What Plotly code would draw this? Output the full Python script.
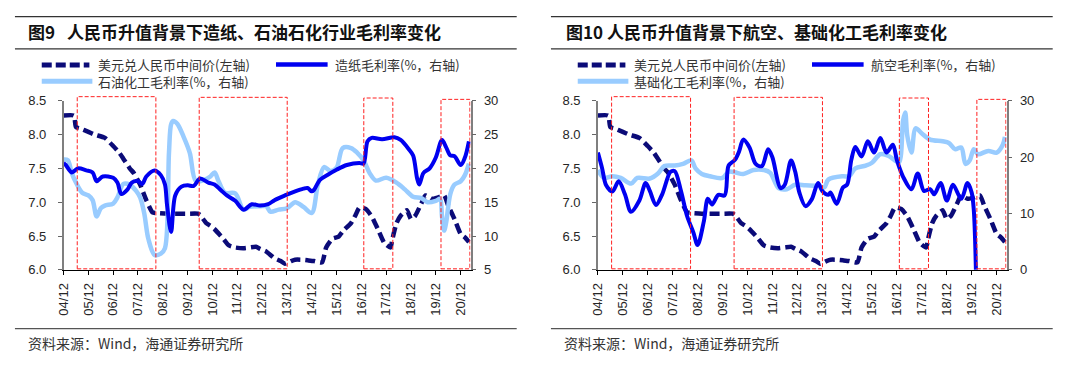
import plotly.graph_objects as go

W, H = 1080, 368

# ---------------- data ----------------
FX_DATES = ["2004-12", "2005-05", "2005-06", "2005-08", "2005-12", "2006-03", "2006-08", "2006-12",
            "2007-03", "2007-05", "2007-08", "2007-10", "2008-01", "2008-04", "2008-07", "2008-09",
            "2009-02", "2009-07", "2009-12", "2010-05", "2010-06", "2010-09", "2010-11", "2011-01",
            "2011-05", "2011-08", "2011-11", "2012-03", "2012-06", "2012-09", "2012-11", "2013-02",
            "2013-06", "2013-09", "2013-11", "2014-02", "2014-04", "2014-07", "2014-10", "2015-01",
            "2015-05", "2015-07", "2015-10", "2016-01", "2016-03", "2016-07", "2016-09", "2016-11",
            "2017-02", "2017-05", "2017-08", "2017-11", "2018-02", "2018-03", "2018-05", "2018-07",
            "2018-10", "2018-12", "2019-02", "2019-05", "2019-07", "2019-10", "2020-01", "2020-04",
            "2020-06", "2020-09", "2020-12", "2021-02", "2021-04"]
FX_VALUES = [8.28, 8.28, 8.11, 8.09, 8.04, 8.00, 7.95, 7.83,
             7.73, 7.64, 7.50, 7.43, 7.26, 7.03, 6.85, 6.84,
             6.83, 6.83, 6.83, 6.83, 6.81, 6.69, 6.65, 6.60,
             6.47, 6.36, 6.33, 6.32, 6.33, 6.34, 6.31, 6.27,
             6.17, 6.13, 6.09, 6.13, 6.15, 6.15, 6.14, 6.13,
             6.11, 6.33, 6.46, 6.49, 6.57, 6.69, 6.80, 6.92,
             6.90, 6.79, 6.60, 6.40, 6.33, 6.45, 6.69, 6.80,
             6.88, 6.75, 6.80, 6.98, 7.10, 7.05, 7.07, 7.10,
             6.95, 6.75, 6.53, 6.48, 6.41]

PAPER_DATES = ["2004-12", "2005-01", "2005-04", "2005-07", "2005-11", "2006-02", "2006-04", "2006-07",
               "2006-12", "2007-02", "2007-04", "2007-07", "2007-09", "2007-12", "2008-02", "2008-04",
               "2008-08", "2008-11", "2009-01", "2009-02", "2009-04", "2009-06", "2009-09", "2009-12",
               "2010-03", "2010-06", "2010-10", "2011-01", "2011-04", "2011-07", "2011-11", "2012-03",
               "2012-07", "2012-11", "2013-03", "2013-06", "2013-11", "2014-04", "2014-08", "2014-10",
               "2014-12", "2015-01", "2015-04", "2015-08", "2015-12", "2016-05", "2016-11", "2017-01",
               "2017-03", "2017-05", "2017-10", "2018-04", "2018-07", "2018-11", "2019-01", "2019-03",
               "2019-04", "2019-06", "2019-09", "2019-12", "2020-03", "2020-05", "2020-07", "2020-09",
               "2020-12", "2021-02", "2021-04"]
PAPER_MARGIN = [20.8, 20.5, 19.4, 20.0, 19.7, 19.4, 18.1, 18.8,
                18.6, 17.9, 16.2, 16.9, 17.9, 18.1, 17.7, 18.8,
                19.7, 19.0, 17.6, 14.5, 10.6, 16.0, 17.3, 17.5,
                17.4, 18.5, 17.9, 17.6, 16.8, 16.0, 15.2, 13.9,
                14.7, 14.5, 14.7, 15.3, 16.0, 16.6, 17.0, 17.1,
                16.6, 16.8, 18.3, 19.1, 19.8, 20.5, 20.8, 20.7,
                24.0, 24.5, 24.3, 24.6, 24.2, 22.8, 21.9, 18.5,
                17.6, 19.3, 20.0, 21.6, 24.2, 23.1, 21.9, 21.8,
                20.5, 21.6, 24.0]

PETRO_DATES = ["2004-12", "2005-02", "2005-04", "2005-06", "2005-09", "2005-12", "2006-02", "2006-04",
               "2006-06", "2006-08", "2006-12", "2007-02", "2007-05", "2007-08", "2007-11", "2008-01",
               "2008-03", "2008-05", "2008-08", "2008-11", "2009-01", "2009-03", "2009-04", "2009-05",
               "2009-07", "2009-10", "2010-01", "2010-04", "2010-08", "2010-11", "2011-01", "2011-03",
               "2011-06", "2011-11", "2012-03", "2012-06", "2012-11", "2013-02", "2013-04", "2013-08",
               "2013-12", "2014-04", "2014-08", "2014-12", "2015-03", "2015-06", "2015-09", "2015-12",
               "2016-03", "2016-07", "2016-10", "2017-01", "2017-04", "2017-07", "2017-12", "2018-05",
               "2018-09", "2019-01", "2019-05", "2019-08", "2019-12", "2020-02", "2020-03", "2020-04",
               "2020-05", "2020-07", "2020-09", "2020-12", "2021-02", "2021-04"]
PETRO_MARGIN = [21.3, 21.2, 19.3, 17.9, 16.4, 16.0, 15.3, 12.9,
                14.1, 14.5, 14.8, 15.7, 17.7, 17.6, 16.7, 15.7,
                13.4, 9.6, 7.2, 7.4, 8.2, 22.3, 26.5, 27.0,
                26.6, 24.7, 22.3, 18.1, 18.3, 18.8, 19.4, 18.1,
                16.4, 16.3, 13.9, 14.3, 14.4, 14.4, 13.6, 13.9,
                14.1, 15.0, 14.3, 13.4, 17.6, 20.2, 19.6, 20.1,
                23.0, 23.0, 22.3, 21.2, 19.3, 18.2, 18.6, 17.9,
                16.9, 15.8, 15.6, 15.0, 15.2, 15.5, 12.9, 10.8,
                12.0, 16.2, 17.6, 18.1, 19.0, 20.7]

AVIATION_DATES = ["2004-12", "2005-02", "2005-04", "2005-07", "2005-10", "2006-01", "2006-04", "2006-08",
                  "2006-11", "2007-01", "2007-04", "2007-07", "2007-11", "2008-01", "2008-04", "2008-07",
                  "2008-10", "2008-12", "2009-03", "2009-05", "2009-07", "2009-10", "2010-01", "2010-03",
                  "2010-06", "2010-08", "2010-10", "2011-01", "2011-04", "2011-07", "2011-10", "2011-12",
                  "2012-04", "2012-06", "2012-09", "2012-11", "2013-01", "2013-04", "2013-07", "2013-10",
                  "2013-12", "2014-03", "2014-04", "2014-07", "2014-10", "2014-12", "2015-02", "2015-04",
                  "2015-07", "2015-10", "2016-01", "2016-04", "2016-07", "2016-10", "2016-12", "2017-03",
                  "2017-07", "2017-10", "2018-01", "2018-04", "2018-06", "2018-09", "2018-12", "2019-03",
                  "2019-07", "2019-10", "2019-12", "2020-01", "2020-02"]
AVIATION_MARGIN = [20.8, 18.0, 15.0, 13.9, 15.7, 13.4, 10.3, 12.3,
                   15.4, 14.0, 11.5, 13.4, 17.4, 17.5, 14.0, 9.5,
                   6.6, 4.4, 8.5, 12.6, 11.6, 13.3, 13.2, 18.5,
                   19.5, 21.0, 23.1, 21.7, 18.8, 18.4, 21.4, 20.0,
                   14.5, 15.1, 19.4, 17.4, 13.7, 11.3, 12.5, 15.4,
                   14.0, 13.3, 13.7, 11.7, 14.6, 15.1, 19.5, 21.8,
                   20.1, 22.8, 20.8, 23.4, 20.8, 22.2, 19.4, 16.5,
                   14.3, 17.1, 14.0, 14.3, 13.4, 15.4, 12.3, 15.1,
                   12.6, 15.4, 13.7, 10.6, 0.0]

CHEM_DATES = ["2004-12", "2005-03", "2005-07", "2005-11", "2006-04", "2006-07", "2007-01", "2007-05",
              "2007-08", "2008-01", "2008-05", "2008-09", "2008-11", "2009-02", "2009-06", "2009-12",
              "2010-03", "2010-06", "2010-10", "2011-03", "2011-08", "2011-11", "2012-03", "2012-07",
              "2012-11", "2013-04", "2013-10", "2014-01", "2014-03", "2014-10", "2015-01", "2015-04",
              "2015-09", "2015-12", "2016-04", "2016-08", "2016-11", "2017-01", "2017-03", "2017-04",
              "2017-05", "2017-07", "2017-09", "2017-12", "2018-04", "2018-10", "2019-01", "2019-04",
              "2019-07", "2019-09", "2019-11", "2020-01", "2020-03", "2020-08", "2020-12", "2021-03",
              "2021-04"]
CHEM_MARGIN = [17.7, 16.3, 16.6, 16.3, 15.3, 16.3, 16.2, 17.1,
               18.4, 18.5, 18.8, 19.4, 18.0, 17.0, 16.6, 16.3,
               17.4, 17.3, 17.0, 17.7, 17.7, 17.2, 14.5, 14.3,
               15.1, 15.0, 14.9, 14.6, 16.0, 16.6, 16.6, 18.0,
               18.5, 19.0, 20.5, 20.2, 19.4, 19.1, 26.5, 27.9,
               23.8, 20.8, 25.1, 24.2, 23.1, 22.8, 22.5, 21.4,
               21.7, 18.8, 19.4, 21.4, 20.5, 21.1, 20.8, 22.2,
               23.6]

TICK_DATES = ["2004-12-01", "2005-12-01", "2006-12-01", "2007-12-01", "2008-12-01", "2009-12-01",
              "2010-12-01", "2011-12-01", "2012-12-01", "2013-12-01", "2014-12-01", "2015-12-01",
              "2016-12-01", "2017-12-01", "2018-12-01", "2019-12-01", "2020-12-01"]
TICK_LABELS = ["04/12", "05/12", "06/12", "07/12", "08/12", "09/12", "10/12", "11/12", "12/12",
               "13/12", "14/12", "15/12", "16/12", "17/12", "18/12", "19/12", "20/12"]

# RMB appreciation periods (red dashed boxes)
PERIOD_START = ["2005-06-20", "2010-05-20", "2017-01-05", "2020-02-15"]
PERIOD_END = ["2008-08-20", "2013-12-05", "2018-03-08", "2021-04-15"]
PERIOD_TOP = [8.56, 8.55, 8.54, 8.52]

TITLES = ["图9\u2002\u2009人民币升值背景下造纸、石油石化行业毛利率变化",
          "图10 人民币升值背景下航空、基础化工毛利率变化"]
NAMES_LEFT = ["美元兑人民币中间价(左轴)", "造纸毛利率(%，右轴)", "石油化工毛利率(%，右轴)"]
NAMES_RIGHT = ["美元兑人民币中间价(左轴)", "航空毛利率(%，右轴)", "基础化工毛利率(%，右轴)"]
SOURCE = "资料来源：Wind，海通证券研究所"

# ---------------- styling ----------------
NAVY = "#0B0B78"
BLUE = "#0000F0"
LIGHT = "#99CCFF"
RED = "#FF2020"
CJK = "Noto Sans CJK SC"
LAT = "Liberation Sans, Arial"
X_RANGE = ["2004-12-01", "2021-04-25"]


def px(x):
    return x / W


def py(y):
    return 1 - y / H


Y_DOM = [py(274), py(97.7)]
X_DOM_L = [px(56), px(466)]
X_DOM_R = [px(594.3), px(1006)]


def left_val_to_paper(v):
    return Y_DOM[0] + (v - 6.0) / 2.5 * (Y_DOM[1] - Y_DOM[0])


fig = go.Figure()

spline = dict(shape="spline", smoothing=0.9)
spline_fx = dict(shape="spline", smoothing=0.5)

# left panel
fig.add_trace(go.Scatter(x=FX_DATES, y=FX_VALUES, mode="lines", xaxis="x", yaxis="y",
                         line=dict(color=NAVY, width=4.5, dash="10px,5px", **spline_fx),
                         name=NAMES_LEFT[0], showlegend=False))
fig.add_trace(go.Scatter(x=PETRO_DATES, y=PETRO_MARGIN, mode="lines", xaxis="x", yaxis="y2",
                         line=dict(color=LIGHT, width=4.5, **spline), name=NAMES_LEFT[2], showlegend=False))
fig.add_trace(go.Scatter(x=PAPER_DATES, y=PAPER_MARGIN, mode="lines", xaxis="x", yaxis="y2",
                         line=dict(color=BLUE, width=4, **spline), name=NAMES_LEFT[1], showlegend=False))

# right panel
fig.add_trace(go.Scatter(x=FX_DATES, y=FX_VALUES, mode="lines", xaxis="x2", yaxis="y3",
                         line=dict(color=NAVY, width=4.5, dash="10px,5px", **spline_fx),
                         name=NAMES_RIGHT[0], showlegend=False))
fig.add_trace(go.Scatter(x=CHEM_DATES, y=CHEM_MARGIN, mode="lines", xaxis="x2", yaxis="y4",
                         line=dict(color=LIGHT, width=4.5, **spline), name=NAMES_RIGHT[2], showlegend=False))
fig.add_trace(go.Scatter(x=AVIATION_DATES, y=AVIATION_MARGIN, mode="lines", xaxis="x2", yaxis="y4",
                         line=dict(color=BLUE, width=4, **spline), name=NAMES_RIGHT[1], showlegend=False))

tickfont = dict(family=LAT, size=13, color="#262626")
xcommon = dict(type="date", range=X_RANGE, tickmode="array", tickvals=TICK_DATES, ticktext=TICK_LABELS,
               tickangle=-90, ticks="outside", ticklen=4, tickcolor="#000", showline=True,
               linecolor="#000", linewidth=1.2, showgrid=False, zeroline=False, tickfont=tickfont,
               ticklabelstandoff=3)
ycommon = dict(ticks="outside", ticklen=4, tickcolor="#666", showline=True, linecolor="#7F7F7F",
               linewidth=1.5, showgrid=False, zeroline=False, tickfont=tickfont, domain=Y_DOM)

fig.update_layout(
    width=W, height=H, margin=dict(l=0, r=0, t=0, b=0),
    paper_bgcolor="white", plot_bgcolor="white", showlegend=False,
    xaxis=dict(domain=X_DOM_L, anchor="y", **xcommon),
    xaxis2=dict(domain=X_DOM_R, anchor="y3", **xcommon),
    yaxis=dict(anchor="x", range=[6, 8.5], dtick=0.5, tick0=6, tickformat=".1f",
               ticklabelstandoff=9, **ycommon),
    yaxis2=dict(anchor="x", overlaying="y", side="right", range=[5, 30], dtick=5, tick0=5,
                ticklabelstandoff=5, **ycommon),
    yaxis3=dict(anchor="x2", range=[6, 8.5], dtick=0.5, tick0=6, tickformat=".1f",
                ticklabelstandoff=9, **ycommon),
    yaxis4=dict(anchor="x2", overlaying="y3", side="right", range=[0, 30], dtick=10, tick0=0,
                ticklabelstandoff=5, **ycommon),
)

shapes = []
annotations = []

# red dashed boxes marking appreciation periods
for xref in ["x", "x2"]:
    for s, e, top in zip(PERIOD_START, PERIOD_END, PERIOD_TOP):
        shapes.append(dict(type="rect", xref=xref, yref="paper", x0=s, x1=e,
                           y0=left_val_to_paper(6.015), y1=left_val_to_paper(top),
                           line=dict(color=RED, width=1, dash="4px,2px"), fillcolor="rgba(0,0,0,0)",
                           layer="above"))

for off, title, names in [(0, TITLES[0], NAMES_LEFT), (540, TITLES[1], NAMES_RIGHT)]:
    # rules
    for yy, col, wd in [(10, "#333333", 1.2), (43.7, "#333333", 1.2), (335.3, "#555555", 1.2)]:
        shapes.append(dict(type="line", xref="paper", yref="paper", x0=px(off + 7), x1=px(off + 512.5),
                           y0=py(yy), y1=py(yy), line=dict(color=col, width=wd)))
    # title
    tx = 18.3 if off == 0 else 560
    annotations.append(dict(xref="paper", yref="paper", x=px(tx), y=py(26), xanchor="left",
                            yanchor="middle", showarrow=False, text="<b>" + title + "</b>",
                            font=dict(family=CJK, size=17, color="#111")))
    # legend samples
    shapes.append(dict(type="line", xref="paper", yref="paper", x0=px(off + 34), x1=px(off + 82),
                       y0=py(60.5), y1=py(60.5), line=dict(color=NAVY, width=5, dash="10px,4px")))
    shapes.append(dict(type="line", xref="paper", yref="paper", x0=px(off + 270), x1=px(off + 322),
                       y0=py(60), y1=py(60), line=dict(color=BLUE, width=4.5)))
    shapes.append(dict(type="line", xref="paper", yref="paper", x0=px(off + 34), x1=px(off + 85),
                       y0=py(77.5), y1=py(77.5), line=dict(color=LIGHT, width=5)))
    lf = dict(family=CJK, size=13, color="#333333")
    annotations.append(dict(xref="paper", yref="paper", x=px(off + 89), y=py(60), xanchor="left",
                            yanchor="middle", showarrow=False, text=names[0], font=lf))
    annotations.append(dict(xref="paper", yref="paper", x=px(off + 327), y=py(60), xanchor="left",
                            yanchor="middle", showarrow=False, text=names[1], font=lf))
    annotations.append(dict(xref="paper", yref="paper", x=px(off + 89), y=py(77.5), xanchor="left",
                            yanchor="middle", showarrow=False, text=names[2], font=lf))
    # source
    annotations.append(dict(xref="paper", yref="paper", x=px(off + 18), y=py(350.5), xanchor="left",
                            yanchor="middle", showarrow=False, text=SOURCE,
                            font=dict(family=CJK, size=14, color="#333333")))

fig.update_layout(shapes=shapes, annotations=annotations)
fig.write_html("out.html", config={"displayModeBar": False},
               post_script="document.body.style.margin='0';document.body.style.overflow='hidden';")
